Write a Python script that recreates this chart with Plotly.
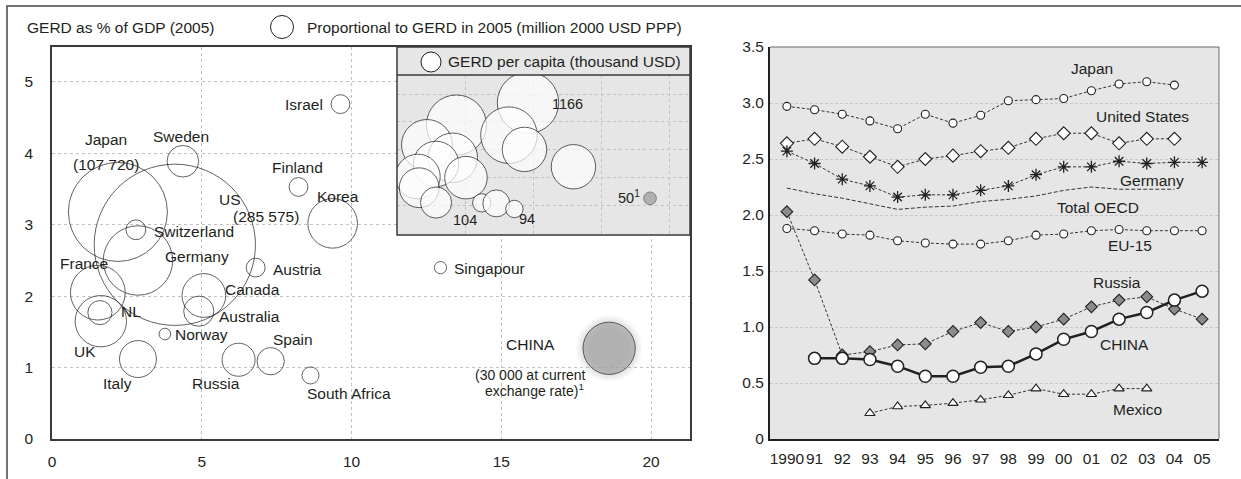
import plotly.graph_objects as go

W, H = 1241, 479
def PX(px): return px / W
def PY(py): return 1 - py / H

FONT = "Liberation Sans, Arial, sans-serif"
TXT = "#231f20"

# ---------------- Left chart data ----------------
countries = ["US", "Japan", "Germany", "France", "UK", "Korea", "Canada", "Italy", "Russia",
             "Sweden", "Australia", "Spain", "NL", "Switzerland", "Israel", "Finland",
             "Austria", "South Africa", "Singapour", "Norway"]
x_val = [4.10, 2.20, 2.87, 1.53, 1.63, 9.37, 5.07, 2.87, 6.23,
         4.37, 4.90, 7.30, 1.60, 2.80, 9.63, 8.23,
         6.80, 8.63, 12.97, 3.77]
gerd_pct_gdp = [2.72, 3.18, 2.50, 2.05, 1.65, 3.02, 2.01, 1.12, 1.11,
                3.89, 1.79, 1.09, 1.77, 2.93, 4.69, 3.53,
                2.40, 0.89, 2.40, 1.47]
gerd_mn = [285575, 107720, 53000, 33000, 29000, 27000, 21000, 15000, 12000,
           11000, 10000, 8200, 6400, 4300, 3900, 3900,
           3900, 3200, 1650, 1500]

china_x = [18.6]
china_y = [1.27]
china_gerd = [30000]
china_halo = [66, 63, 60, 57, 54, 51, 48, 45, 42, 39]

# inset: GERD per capita (drawn in order, later on top)
inset_countries = ["Israel", "Sweden", "Finland", "Japan", "Korea", "US", "Germany",
                   "Singapour", "France", "Canada", "UK", "Italy", "Russia", "Spain",
                   "South Africa"]
inset_x = [9.63, 4.37, 8.23, 2.20, 9.37, 4.10, 2.87, 12.97, 1.53, 5.07, 1.63, 2.87, 6.23, 7.30, 8.63]
inset_y = [4.69, 3.89, 3.53, 3.18, 3.02, 2.72, 2.50, 2.40, 2.05, 2.01, 1.65, 1.12, 1.11, 1.09, 0.89]
inset_pc = [1166, 1120, 990, 800, 610, 760, 640, 610, 620, 560, 490, 300, 104, 225, 94]
inset_china_pc = [50]

# ---------------- Right chart data ----------------
years = list(range(1990, 2006))
year_labels = ["1990", "91", "92", "93", "94", "95", "96", "97", "98", "99",
               "00", "01", "02", "03", "04", "05"]
japan = [2.97, 2.94, 2.90, 2.84, 2.77, 2.90, 2.82, 2.89, 3.02, 3.03, 3.04, 3.11, 3.17, 3.19, 3.16, None]
united_states = [2.64, 2.68, 2.61, 2.52, 2.43, 2.50, 2.53, 2.57, 2.60, 2.68, 2.73, 2.73, 2.64, 2.68, 2.68, None]
germany = [2.57, 2.46, 2.32, 2.26, 2.16, 2.18, 2.18, 2.22, 2.26, 2.36, 2.43, 2.43, 2.48, 2.46, 2.47, 2.47]
total_oecd = [2.24, 2.19, 2.15, 2.10, 2.05, 2.07, 2.08, 2.12, 2.14, 2.17, 2.22, 2.25, 2.23, 2.23, 2.23, None]
eu15 = [1.88, 1.86, 1.83, 1.82, 1.77, 1.75, 1.74, 1.74, 1.77, 1.82, 1.83, 1.86, 1.87, 1.86, 1.86, 1.86]
russia = [2.03, 1.42, 0.75, 0.78, 0.84, 0.85, 0.96, 1.04, 0.96, 1.00, 1.07, 1.18, 1.24, 1.27, 1.16, 1.07]
china = [None, 0.72, 0.72, 0.71, 0.65, 0.56, 0.56, 0.64, 0.65, 0.76, 0.89, 0.96, 1.07, 1.13, 1.24, 1.32]
mexico = [None, None, None, 0.23, 0.29, 0.30, 0.32, 0.35, 0.39, 0.45, 0.40, 0.40, 0.45, 0.45, None, None]

fig = go.Figure()

# China halo (soft gray glow) drawn first
fig.add_trace(go.Scatter(x=china_x * len(china_halo), y=china_y * len(china_halo), mode="markers",
    xaxis="x", yaxis="y", hoverinfo="skip",
    marker=dict(size=china_halo, color=["rgba(120,120,120,0.045)"] * len(china_halo),
                opacity=1, line=dict(width=0))))
# main bubbles
fig.add_trace(go.Scatter(x=x_val, y=gerd_pct_gdp, mode="markers", xaxis="x", yaxis="y",
    marker=dict(size=gerd_mn, sizemode="area", sizeref=21.97, color="rgba(0,0,0,0)",
                line=dict(color="#231f20", width=1)), hoverinfo="text", text=countries))
fig.add_trace(go.Scatter(x=china_x, y=china_y, mode="markers", xaxis="x", yaxis="y",
    marker=dict(size=china_gerd, sizemode="area", sizeref=21.97, color="#a7a7a7",
                line=dict(color="#231f20", width=1))))

# inset bubbles
fig.add_trace(go.Scatter(x=inset_x, y=inset_y, mode="markers", xaxis="x3", yaxis="y3",
    marker=dict(size=inset_pc, sizemode="area", sizeref=0.619, color="white",
                line=dict(color="#231f20", width=1)), text=inset_countries, hoverinfo="text"))
fig.add_trace(go.Scatter(x=china_x, y=china_y, mode="markers", xaxis="x3", yaxis="y3",
    marker=dict(size=inset_china_pc, sizemode="area", sizeref=0.619, color="#9a9a9a",
                line=dict(color="#555", width=1))))

# right chart lines
dash = "3px,2px"
lc = "#333333"
def line_trace(vals, symbol, size, fill, lw=1, dsh=dash, mlw=1.1, color=lc):
    return go.Scatter(x=years, y=vals, mode="lines+markers" if symbol else "lines",
                      xaxis="x2", yaxis="y2", connectgaps=False,
                      line=dict(color=color, width=lw, dash=dsh),
                      marker=dict(symbol=symbol or "circle", size=size, color=fill,
                                  line=dict(color="#231f20", width=mlw)))

fig.add_trace(line_trace(total_oecd, None, 0, "white", dsh="4px,2px"))
fig.add_trace(line_trace(japan, "circle", 8, "white"))
fig.add_trace(line_trace(united_states, "diamond", 10, "white"))
fig.add_trace(go.Scatter(x=years, y=germany, mode="lines+markers", xaxis="x2", yaxis="y2",
    line=dict(color=lc, width=1, dash=dash),
    marker=dict(symbol="asterisk-open", size=10, color="#231f20", line=dict(color="#231f20", width=1.3))))
fig.add_trace(line_trace(eu15, "circle", 8, "white"))
fig.add_trace(line_trace(russia, "diamond", 9, "#8c8c8c"))
fig.add_trace(line_trace(mexico, "triangle-up", 9, "white"))
fig.add_trace(go.Scatter(x=years, y=china, mode="lines+markers", xaxis="x2", yaxis="y2",
    line=dict(color="#231f20", width=2.5),
    marker=dict(symbol="circle", size=12, color="white", line=dict(color="#231f20", width=1.5))))

FS = 15.5
tickfont = dict(family=FONT, size=FS, color=TXT)
grid = dict(showgrid=True, gridcolor="#c2c2c2", griddash="3px,3px", gridwidth=1, zeroline=False)

fig.update_layout(
    width=W, height=H, margin=dict(l=0, r=0, t=0, b=0, autoexpand=False),
    paper_bgcolor="white", plot_bgcolor="#e6e6e7", showlegend=False,
    font=dict(family=FONT, size=FS, color=TXT),
    xaxis=dict(domain=[PX(52), PX(690)], anchor="y", range=[0, 21.3], tickvals=[0, 5, 10, 15, 20],
               showline=True, linecolor="#3a3a3a", linewidth=1.5, mirror=True, ticks="", tickangle=0,
               ticklabelstandoff=8, tickfont=tickfont, automargin=False, **grid),
    yaxis=dict(domain=[PY(439), PY(47)], anchor="x", range=[0, 5.49], tickvals=[0, 1, 2, 3, 4, 5],
               showline=True, linecolor="#3a3a3a", linewidth=1.5, mirror=True, ticks="",
               ticklabelstandoff=14, tickfont=tickfont, automargin=False, **grid),
    xaxis2=dict(domain=[PX(770), PX(1219)], anchor="y2", range=[1989.39, 2005.61], tickvals=years,
                ticktext=year_labels, showgrid=False, zeroline=False, showline=True, tickangle=0,
                linecolor="#231f20", linewidth=2, ticks="", ticklabelstandoff=4, tickfont=tickfont,
                automargin=False),
    yaxis2=dict(domain=[PY(439), PY(47)], anchor="x2", range=[0, 3.5],
                tickvals=[0, 0.5, 1, 1.5, 2, 2.5, 3, 3.5],
                ticktext=["0", "0.5", "1.0", "1.5", "2.0", "2.5", "3.0", "3.5"],
                showline=True, linecolor="#231f20", linewidth=2, ticks="", ticklabelstandoff=1,
                tickfont=tickfont, showgrid=True, gridcolor="#c8c8c8", griddash="3px,2px",
                zeroline=False, automargin=False),
    xaxis3=dict(domain=[PX(397), PX(690)], anchor="y3", range=[0, 21.54], tickvals=[5, 10, 15, 20],
                showticklabels=False, ticks="", showline=False, automargin=False, **grid),
    yaxis3=dict(domain=[PY(235), PY(75)], anchor="x3", range=[-0.04, 5.68], tickvals=[1, 2, 3, 4, 5],
                showticklabels=False, ticks="", showline=False, automargin=False, **grid),
)

shapes = [
    dict(type="rect", xref="paper", yref="paper", x0=PX(52), x1=PX(690), y0=PY(439), y1=PY(47),
         fillcolor="white", line=dict(width=0), layer="below"),
    dict(type="rect", xref="paper", yref="paper", x0=PX(397), x1=PX(690), y0=PY(75), y1=PY(47),
         fillcolor="#e6e6e7", line=dict(width=0), layer="above"),
    dict(type="rect", xref="paper", yref="paper", x0=PX(397), x1=PX(690), y0=PY(235), y1=PY(47),
         line=dict(color="#3a3a3a", width=1.5), layer="above"),
    dict(type="line", xref="paper", yref="paper", x0=PX(397), x1=PX(690), y0=PY(75), y1=PY(75),
         line=dict(color="#3a3a3a", width=1.5), layer="above"),
    dict(type="circle", xref="paper", yref="paper", x0=PX(421), x1=PX(441), y0=PY(72), y1=PY(52),
         fillcolor="white", line=dict(color="#231f20", width=1), layer="above"),
    dict(type="circle", xref="paper", yref="paper", x0=PX(270.5), x1=PX(293.5), y0=PY(38.5), y1=PY(15.5),
         fillcolor="white", line=dict(color="#231f20", width=1), layer="above"),
    dict(type="path", xref="paper", yref="paper",
         path=f"M {PX(770)} {PY(47)} L {PX(1219)} {PY(47)} L {PX(1219)} {PY(439)}",
         line=dict(color="#6a6a6a", width=1), layer="above"),
    dict(type="path", xref="paper", yref="paper",
         path=f"M {PX(7)} {PY(479)} L {PX(7)} {PY(6)} L {PX(1241)} {PY(6)}",
         line=dict(color="#444", width=1.5), layer="above"),
]
fig.update_layout(shapes=shapes)

ann = []
def A(text, x, y, xref="x", yref="y", xanchor="center", size=FS):
    ann.append(dict(text=text, x=x, y=y, xref=xref, yref=yref, xanchor=xanchor, yanchor="middle",
                    showarrow=False, borderpad=0, font=dict(family=FONT, size=size, color=TXT)))

A("GERD as % of GDP (2005)", PX(26), PY(28), "paper", "paper", "left")
A("Proportional to GERD in 2005 (million 2000 USD PPP)", PX(306), PY(28), "paper", "paper", "left")
A("GERD per capita (thousand USD)", PX(447), PY(62), "paper", "paper", "left")

left_labels = [
    ("Israel", 8.41, 4.69, "center"), ("Japan", 1.80, 4.19, "center"), ("(107 720)", 1.80, 3.85, "center"),
    ("Sweden", 4.31, 4.23, "center"), ("Finland", 8.21, 3.80, "center"), ("Korea", 9.55, 3.39, "center"),
    ("US", 5.94, 3.36, "center"), ("(285 575)", 7.15, 3.11, "center"), ("Switzerland", 3.37, 2.90, "left"),
    ("Germany", 4.84, 2.56, "center"), ("France", 1.07, 2.46, "center"), ("Austria", 7.35, 2.38, "left"),
    ("Canada", 6.68, 2.10, "center"), ("NL", 2.64, 1.78, "center"), ("Australia", 6.58, 1.71, "center"),
    ("Norway", 4.07, 1.46, "left"), ("Spain", 8.05, 1.39, "center"), ("UK", 1.10, 1.23, "center"),
    ("Italy", 2.17, 0.78, "center"), ("Russia", 5.48, 0.78, "center"), ("South Africa", 9.92, 0.64, "center"),
    ("Singapour", 13.39, 2.39, "left"), ("CHINA", 15.99, 1.32, "center"),
]
for t, x, y, xa in left_labels:
    A(t, x, y, "x", "y", xa)
A("(30 000 at current", 15.99, 0.89, "x", "y", "center", 14)
A("exchange rate)<sup>1</sup>", 16.1, 0.68, "x", "y", "center", 14)

A("1166", 12.57, 4.64, "x3", "y3", "center", 14.5)
A("104", 5.0, 0.5, "x3", "y3", "center", 14.5)
A("94", 9.56, 0.54, "x3", "y3", "center", 14.5)
A("50<sup>1</sup>", 17.06, 1.32, "x3", "y3", "center", 14.5)

right_labels = [("Japan", 2001.01, 3.31), ("United States", 2002.86, 2.88), ("Germany", 2003.18, 2.31),
                ("Total OECD", 2001.23, 2.07), ("EU-15", 2002.39, 1.73), ("Russia", 2001.92, 1.40),
                ("CHINA", 2002.21, 0.84), ("Mexico", 2002.68, 0.26)]
for t, x, y in right_labels:
    A(t, x, y, "x2", "y2")

fig.update_layout(annotations=ann)
fig.write_html("out.html", config={"displayModeBar": False},
               post_script="document.body.style.margin='0';document.body.style.overflow='hidden';")
